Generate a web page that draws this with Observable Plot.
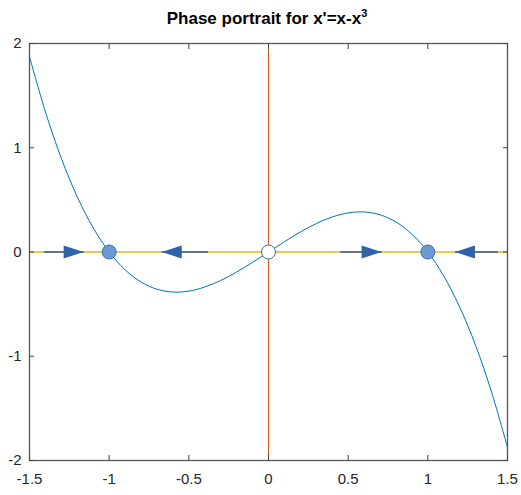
<!DOCTYPE html>
<html>
<head>
<meta charset="utf-8">
<script src="https://cdn.jsdelivr.net/npm/d3@7"></script>
<script src="https://cdn.jsdelivr.net/npm/@observablehq/plot@0.6"></script>
<style>
  html, body { margin: 0; padding: 0; background: #fff; }
  #chart { width: 521px; height: 495px; }
</style>
</head>
<body>
<div id="chart"></div>
<script>
// Curve x' = x - x^3
const curveX = [-1.5,-1.4,-1.3,-1.2,-1.1,-1.0,-0.9,-0.8,-0.7,-0.6,-0.5,-0.4,-0.3,-0.2,-0.1,0,
                 0.1,0.2,0.3,0.4,0.5,0.6,0.7,0.8,0.9,1.0,1.1,1.2,1.3,1.4,1.5];
const curveY = [1.875,1.344,0.897,0.528,0.231,0,-0.171,-0.288,-0.357,-0.384,-0.375,-0.336,-0.273,-0.192,-0.099,0,
                 0.099,0.192,0.273,0.336,0.375,0.384,0.357,0.288,0.171,0,-0.231,-0.528,-0.897,-1.344,-1.875];

// Equilibria
const eqX = [-1, 0, 1];
const eqStable = [true, false, true];

// Flow arrows (tail -> tip) along x-axis
const arrowTail = [-1.41, -0.38, 0.45, 1.44];
const arrowTip  = [-1.16, -0.67, 0.71, 1.17];

// Tick labels
const xTicks = [-1.5, -1, -0.5, 0, 0.5, 1, 1.5];
const yTicks = [-2, -1, 0, 1, 2];

const curve = curveX.map((x, i) => ({x, y: curveY[i]}));
const eq = eqX.map((x, i) => ({x, y: 0, stable: eqStable[i]}));
const arrows = arrowTail.map((t, i) => ({x1: t, x2: arrowTip[i], y: 0, right: arrowTip[i] > t}));

const headRight = {draw(ctx) { ctx.moveTo(0, 0); ctx.lineTo(-20, -6.5); ctx.lineTo(-20, 6.5); ctx.closePath(); }};
const headLeft  = {draw(ctx) { ctx.moveTo(0, 0); ctx.lineTo(20, -6.5); ctx.lineTo(20, 6.5); ctx.closePath(); }};

const fmt = d => String(d);
const none = () => null;
const tickColor = "#444";

const svg = Plot.plot({
  width: 521,
  height: 495,
  marginLeft: 29,
  marginRight: 14,
  marginTop: 43,
  marginBottom: 35,
  style: {fontFamily: "'Liberation Sans', Arial, sans-serif", fontSize: "15px", color: "#262626", background: "#fff"},
  x: {domain: [-1.5, 1.5]},
  y: {domain: [-2, 2]},
  marks: [
    Plot.ruleY([0], {stroke: "#EDB120", strokeWidth: 1.6}),
    Plot.ruleX([0], {stroke: "#D95319", strokeWidth: 1}),
    Plot.line(curve, {x: "x", y: "y", stroke: "#0072BD", strokeWidth: 1, curve: "catmull-rom", clip: true}),
    Plot.link(arrows, {x1: "x1", x2: "x2", y1: "y", y2: "y", stroke: "#2f5c96", strokeWidth: 1.6}),
    Plot.dot(arrows.filter(d => d.right), {x: "x2", y: "y", symbol: headRight, fill: "#2e63a8", stroke: "none"}),
    Plot.dot(arrows.filter(d => !d.right), {x: "x2", y: "y", symbol: headLeft, fill: "#2e63a8", stroke: "none"}),
    Plot.dot(eq, {x: "x", y: "y", r: 7, fill: d => d.stable ? "#6b9bd2" : "#ffffff", stroke: "#3d6cb0", strokeWidth: 1}),
    Plot.frame({stroke: "#555", strokeWidth: 1.3}),
    Plot.axisX({anchor: "bottom", ticks: xTicks, tickSize: 0, tickPadding: 13, tickFormat: fmt, label: null}),
    Plot.axisX({anchor: "bottom", ticks: xTicks, tickSize: 5, dy: -5, tickFormat: none, label: null, stroke: tickColor}),
    Plot.axisX({anchor: "top", ticks: xTicks, tickSize: 5, dy: 5, tickFormat: none, label: null, stroke: tickColor}),
    Plot.axisY({anchor: "left", ticks: yTicks, tickSize: 0, tickPadding: 8, tickFormat: fmt, label: null}),
    Plot.axisY({anchor: "left", ticks: yTicks, tickSize: 5, dx: 5, tickFormat: none, label: null, stroke: tickColor}),
    Plot.axisY({anchor: "right", ticks: yTicks, tickSize: 5, dx: -5, tickFormat: none, label: null, stroke: tickColor})
  ]
});

const title = d3.select(svg).append("text")
  .attr("x", 267).attr("y", 24)
  .attr("text-anchor", "middle")
  .attr("font-family", "'Liberation Sans', Arial, sans-serif")
  .attr("font-weight", "bold")
  .attr("font-size", 17)
  .attr("fill", "#000");
title.append("tspan").text("Phase portrait for x'=x-x");
title.append("tspan").attr("dy", -7).attr("font-size", 11).text("3");

document.getElementById("chart").appendChild(svg);
</script>
</body>
</html>
